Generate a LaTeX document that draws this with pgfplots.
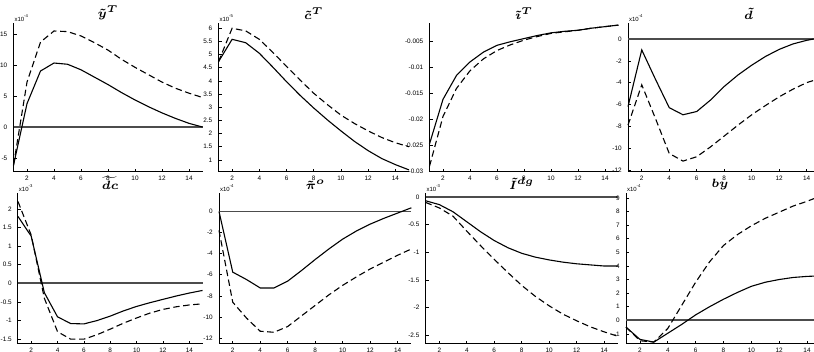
\documentclass[border=0pt]{standalone}
\usepackage{fontspec}
\setmainfont{Liberation Sans}
\usepackage{amsmath}
\usepackage{pgfplots}
\pgfplotsset{compat=1.18}

\pgfplotsset{
  irf/.style={
    scale only axis,
    anchor=north west,
    axis lines*=left,
    axis line style={black, line width=0.5pt},
    height=74.5pt,
    xmin=1, xmax=15,
    xtick={2,4,...,14},
    scaled ticks=false,
    tick align=inside,
    major tick length=1.5pt,
    tick style={black, line width=0.3pt},
    tick label style={font=\fontsize{3.2}{3.6}\selectfont},
    /pgf/number format/assume math mode=true,
    xticklabel style={yshift=1.4pt},
    yticklabel style={xshift=0.4pt},
    title style={at={(0.5,1)}, anchor=south, inner sep=0pt, yshift=-4.5pt,
                 font=\fontsize{6.5}{7}\selectfont\boldmath},
    clip=false,
  },
  resp/.style={black, line width=0.55pt},
  band/.style={black, line width=0.55pt, dash pattern=on 3.2pt off 1.8pt},
  zero/.style={black!70, line width=0.9pt},
}
\newcommand{\expo}[1]{\node[anchor=south west, inner sep=0.3pt, font=\fontsize{3}{3.4}\selectfont]
  at (rel axis cs:0,1) {x10\textsuperscript{#1}};}

\begin{document}
\begin{tikzpicture}
\path[use as bounding box] (0,0) rectangle (407pt,-176pt);

% ---------- top row ----------
\begin{axis}[irf, at={(6.75pt,-11.5pt)}, width=94.5pt,
  ymin=-7.3, ymax=16.9, ytick={-5,0,5,10,15},
  title={$\tilde{y}^{T}$}]
\addplot[zero] coordinates {(1,0) (15,0)};
\addplot[resp] coordinates {(1,-6.2)(2,3.8)(3,9.1)(4,10.4)(5,10.2)(6,9.3)(7,8.1)(8,6.9)(9,5.6)(10,4.4)(11,3.3)(12,2.3)(13,1.4)(14,0.6)(15,0)};
\addplot[band] coordinates {(1,-6.2)(2,7.3)(3,13.8)(4,15.6)(5,15.5)(6,14.8)(7,13.7)(8,12.5)(9,11.0)(10,9.7)(11,8.5)(12,7.3)(13,6.3)(14,5.5)(15,4.8)};
\expo{-4}
\end{axis}

\begin{axis}[irf, at={(109.25pt,-11.5pt)}, width=95.25pt,
  ymin=0.54, ymax=6.2, ytick={1,1.5,...,6},
  yticklabels={1,1.5,2,2.5,3,3.5,4,4.5,5,5.5,6},
  title={$\tilde{c}^{T}$}]
\addplot[resp] coordinates {(1,4.73)(2,5.58)(3,5.45)(4,5.05)(5,4.52)(6,3.97)(7,3.45)(8,2.97)(9,2.52)(10,2.1)(11,1.7)(12,1.35)(13,1.05)(14,0.82)(15,0.62)};
\addplot[band] coordinates {(1,4.73)(2,6.0)(3,5.9)(4,5.58)(5,5.08)(6,4.55)(7,4.03)(8,3.53)(9,3.1)(10,2.7)(11,2.38)(12,2.1)(13,1.85)(14,1.65)(15,1.5)};
\expo{-5}
\end{axis}

\begin{axis}[irf, at={(214.75pt,-11.5pt)}, width=94.5pt,
  ymin=-0.0302, ymax=-0.0015,
  ytick={-0.03,-0.025,-0.02,-0.015,-0.01,-0.005},
  yticklabels={-0.03,-0.025,-0.02,-0.015,-0.01,-0.005},
  title={$\tilde{\imath}^{T}$}]
\addplot[resp] coordinates {(1,-0.0248)(2,-0.0162)(3,-0.0116)(4,-0.0090)(5,-0.0071)(6,-0.0058)(7,-0.0051)(8,-0.0045)(9,-0.0039)(10,-0.0034)(11,-0.0031)(12,-0.0029)(13,-0.0025)(14,-0.0022)(15,-0.0019)};
\addplot[band] coordinates {(1,-0.0291)(2,-0.0195)(3,-0.0141)(4,-0.0107)(5,-0.0084)(6,-0.0068)(7,-0.0057)(8,-0.0048)(9,-0.0041)(10,-0.0035)(11,-0.0032)(12,-0.0029)(13,-0.0025)(14,-0.0022)(15,-0.0019)};
\end{axis}

\begin{axis}[irf, at={(314pt,-11.5pt)}, width=92.8pt, xmax=14.5,
  ymin=-12.2, ymax=1.47, ytick={-12,-10,...,0},
  title style={at={(0.65,1)}},
  title={$\tilde{d}$}]
\addplot[zero] coordinates {(1,0) (14.5,0)};
\addplot[resp] coordinates {(1,-6.2)(2,-1.0)(3,-3.7)(4,-6.3)(5,-6.95)(6,-6.65)(7,-5.6)(8,-4.35)(9,-3.3)(10,-2.4)(11,-1.6)(12,-0.95)(13,-0.45)(14,-0.12)(14.5,0)};
\addplot[band] coordinates {(1,-7.9)(2,-4.2)(3,-7.3)(4,-10.5)(5,-11.2)(6,-10.8)(7,-9.9)(8,-8.9)(9,-7.9)(10,-6.95)(11,-6.1)(12,-5.3)(13,-4.6)(14,-4.0)(14.5,-3.8)};
\expo{-4}
\end{axis}

% ---------- bottom row ----------
\begin{axis}[irf, at={(9pt,-96.5pt)}, width=92.25pt, height=75.5pt,
  ymin=-1.63, ymax=2.43, ytick={-1.5,-1,...,2},
  yticklabels={-1.5,-1,-0.5,0,0.5,1,1.5,2},
  title={$\widetilde{dc}$}]
\addplot[zero] coordinates {(1,0) (15,0)};
\addplot[resp] coordinates {(1,1.8)(2,1.27)(3,-0.25)(4,-0.9)(5,-1.08)(6,-1.09)(7,-1.0)(8,-0.88)(9,-0.74)(10,-0.62)(11,-0.52)(12,-0.43)(13,-0.34)(14,-0.26)(15,-0.19)};
\addplot[band] coordinates {(1,2.2)(2,1.3)(3,-0.4)(4,-1.3)(5,-1.5)(6,-1.5)(7,-1.38)(8,-1.23)(9,-1.07)(10,-0.93)(11,-0.8)(12,-0.7)(13,-0.63)(14,-0.58)(15,-0.55)};
\expo{-3}
\end{axis}

\begin{axis}[irf, at={(109.5pt,-96.5pt)}, width=96.2pt, height=75.5pt,
  ymin=-12.56, ymax=1.75, ytick={-12,-10,...,0},
  title={$\tilde{\pi}^{o}$}]
\addplot[zero] coordinates {(1,0) (15,0)};
\addplot[resp] coordinates {(1,0)(2,-5.75)(3,-6.45)(4,-7.25)(5,-7.25)(6,-6.6)(7,-5.6)(8,-4.55)(9,-3.55)(10,-2.62)(11,-1.85)(12,-1.2)(13,-0.65)(14,-0.15)(15,0.35)};
\addplot[band] coordinates {(1,-1.8)(2,-8.6)(3,-10.1)(4,-11.35)(5,-11.45)(6,-10.9)(7,-9.9)(8,-8.9)(9,-7.9)(10,-7.0)(11,-6.2)(12,-5.45)(13,-4.8)(14,-4.15)(15,-3.55)};
\expo{-4}
\end{axis}

\begin{axis}[irf, at={(212.8pt,-96.5pt)}, width=96.1pt, height=75.5pt,
  ymin=-2.66, ymax=0.07, ytick={-2.5,-2,...,0},
  yticklabels={-2.5,-2,-1.5,-1,-0.5,0},
  title={$\tilde{I}^{dg}$}]
\addplot[zero] coordinates {(1,0) (15,0)};
\addplot[resp] coordinates {(1,-0.07)(2,-0.14)(3,-0.27)(4,-0.45)(5,-0.63)(6,-0.79)(7,-0.92)(8,-1.02)(9,-1.09)(10,-1.14)(11,-1.18)(12,-1.21)(13,-1.23)(14,-1.25)(15,-1.25)};
\addplot[band] coordinates {(1,-0.1)(2,-0.2)(3,-0.35)(4,-0.62)(5,-0.88)(6,-1.13)(7,-1.37)(8,-1.6)(9,-1.8)(10,-1.97)(11,-2.12)(12,-2.24)(13,-2.35)(14,-2.44)(15,-2.52)};
\expo{-3}
\end{axis}

\begin{axis}[irf, at={(313pt,-96.5pt)}, width=94pt, height=75.5pt, xmax=14.5,
  ymin=-1.74, ymax=9.36, ytick={-1,0,...,9},
  title={$by$}]
\addplot[zero] coordinates {(1,0) (14.5,0)};
\addplot[resp] coordinates {(1,-0.5)(2,-1.4)(3,-1.6)(4,-0.95)(5,-0.3)(6,0.4)(7,1.0)(8,1.55)(9,2.05)(10,2.5)(11,2.8)(12,3.0)(13,3.15)(14,3.23)(14.5,3.25)};
\addplot[band] coordinates {(1,-0.5)(2,-1.5)(3,-1.6)(4,-0.6)(5,1.1)(6,2.8)(7,4.3)(8,5.5)(9,6.3)(10,6.95)(11,7.5)(12,7.95)(13,8.4)(14,8.75)(14.5,8.95)};
\expo{-4}
\end{axis}
\end{tikzpicture}
\end{document}
